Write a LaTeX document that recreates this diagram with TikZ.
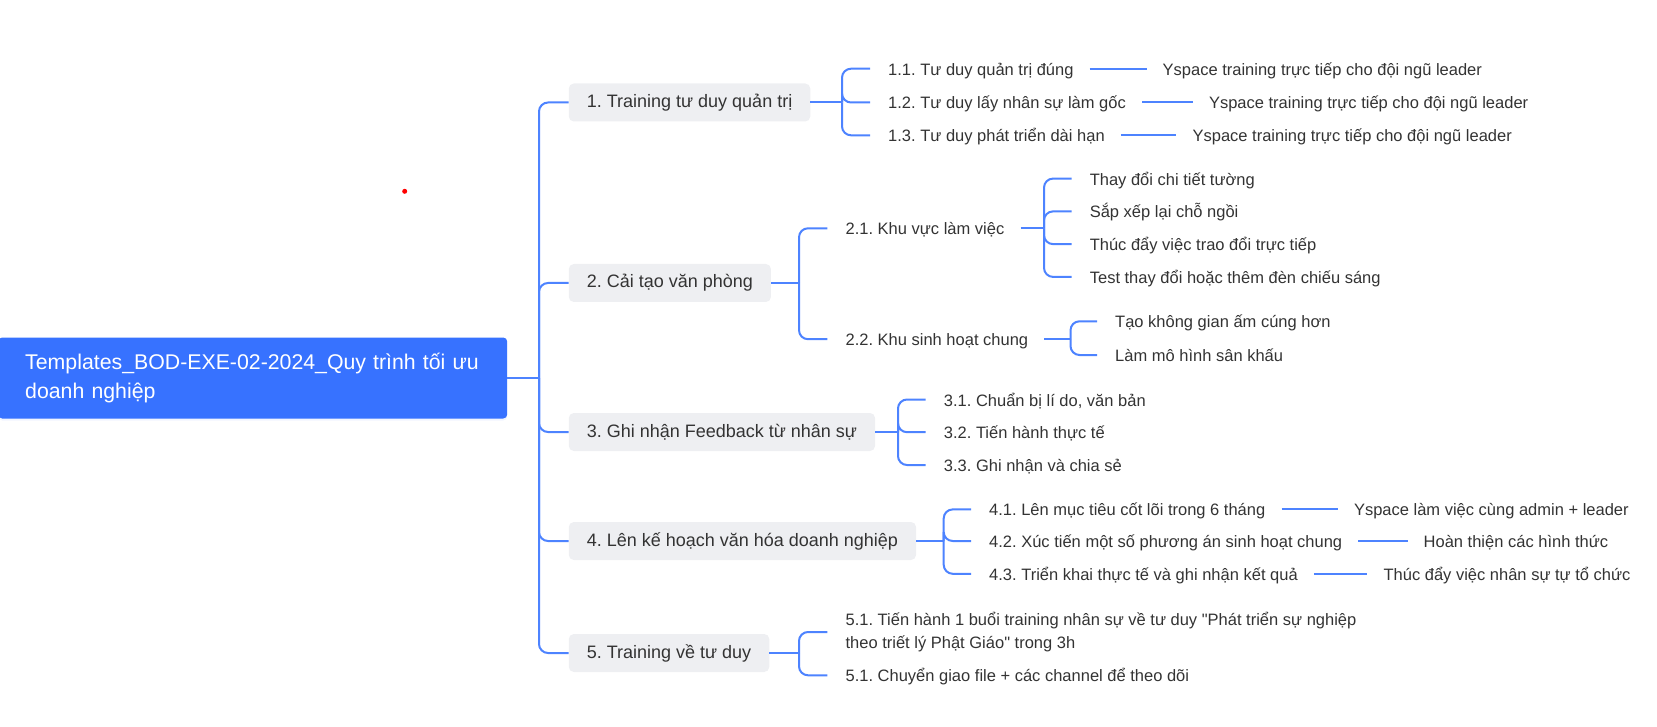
\documentclass[tikz,border=0pt]{standalone}
\usepackage{fontspec}
\setmainfont{Liberation Sans}[Ligatures=TeXOff]
\usetikzlibrary{shadows}
\frenchspacing

\definecolor{blu}{RGB}{55,114,255}
\definecolor{linea}{RGB}{77,131,255}
\definecolor{grigio}{RGB}{238,239,242}
\definecolor{testo}{RGB}{51,51,51}

\tikzset{
  radice/.style={fill=blu, text=white, rounded corners=4pt, align=left,
    font=\fontsize{21.3}{29}\selectfont, inner xsep=27pt, text width=455pt,
    minimum height=81pt, anchor=west,
    drop shadow={shadow xshift=0pt, shadow yshift=-2pt, fill=blu!40, opacity=0.18}},
  ramo/.style={fill=grigio, text=testo, rounded corners=5pt,
    font=\fontsize{18}{22}\selectfont, inner xsep=18pt, inner ysep=0pt,
    minimum height=38pt, text height=13pt, text depth=3pt, anchor=west},
  voce/.style={text=testo, font=\fontsize{16.5}{23.3}\selectfont, inner sep=0pt,
    text height=13pt, text depth=0pt, anchor=west},
  voce2/.style={text=testo, font=\fontsize{16.5}{23.3}\selectfont, inner sep=0pt,
    align=left, anchor=west},
  link/.style={draw=linea, line width=2pt, rounded corners=9pt},
  foglia/.style={link, shorten <=16pt, shorten >=16pt}
}

\begin{document}
\begin{tikzpicture}[x=1pt,y=-1pt]
    \useasboundingbox (0,0) rectangle (1657,727);

    % Radice
    \node[radice] (radice) at (-2,378) {Templates\_BOD-EXE-02-2024\_Quy trình tối ưu\\doanh nghiệp};
    \fill[red] (404.7,191.3) circle (2.5pt);

    % Rami principali
    \node[ramo] (r1) at (568.6,102.5) {1. Training tư duy quản trị};
    \node[ramo] (r2) at (568.6,283) {2. Cải tạo văn phòng};
    \node[ramo] (r3) at (568.6,432) {3. Ghi nhận Feedback từ nhân sự};
    \node[ramo] (r4) at (568.6,541) {4. Lên kế hoạch văn hóa doanh nghiệp};
    \node[ramo] (r5) at (568.6,653) {5. Training về tư duy};

    % Punti di diramazione
    \coordinate (tronco) at (539,378);
    \coordinate (k1) at (842,102.5);
    \coordinate (k2) at (799,283);
    \coordinate (k3) at (898,432);
    \coordinate (k4) at (943.7,541);
    \coordinate (k5) at (799,653);
    \coordinate (k21) at (1044,228.3);
    \coordinate (k22) at (1070.5,339.2);

    % Voci
    \node[voce] (v11) at (888,68.7) {1.1. Tư duy quản trị đúng};
    \node[voce] (v12) at (888,102.5) {1.2. Tư duy lấy nhân sự làm gốc};
    \node[voce] (v13) at (888,135.3) {1.3. Tư duy phát triển dài hạn};
    \node[voce] (v21) at (845.4,228.3) {2.1. Khu vực làm việc};
    \node[voce] (v22) at (845.4,339.2) {2.2. Khu sinh hoạt chung};
    \node[voce] (v211) at (1089.6,178.6) {Thay đổi chi tiết tường};
    \node[voce] (v212) at (1089.6,211.4) {Sắp xếp lại chỗ ngồi};
    \node[voce] (v213) at (1089.6,244.1) {Thúc đẩy việc trao đổi trực tiếp};
    \node[voce] (v214) at (1089.6,276.9) {Test thay đổi hoặc thêm đèn chiếu sáng};
    \node[voce] (v221) at (1115,321.3) {Tạo không gian ấm cúng hơn};
    \node[voce] (v222) at (1115,355) {Làm mô hình sân khấu};
    \node[voce] (v31) at (943.7,399.5) {3.1. Chuẩn bị lí do, văn bản};
    \node[voce] (v32) at (943.7,432.2) {3.2. Tiến hành thực tế};
    \node[voce] (v33) at (943.7,465) {3.3. Ghi nhận và chia sẻ};
    \node[voce] (v41) at (989,509.4) {4.1. Lên mục tiêu cốt lõi trong 6 tháng};
    \node[voce] (v42) at (989,541) {4.2. Xúc tiến một số phương án sinh hoạt chung};
    \node[voce] (v43) at (989,573.8) {4.3. Triển khai thực tế và ghi nhận kết quả};
    \node[voce2] (v51) at (845.4,632) {5.1. Tiến hành 1 buổi training nhân sự về tư duy "Phát triển sự nghiệp\\theo triết lý Phật Giáo" trong 3h};
    \node[voce] (v52) at (845.4,675.3) {5.1. Chuyển giao file + các channel để theo dõi};

    % Foglie
    \node[voce] (f11) at (1162.5,68.7) {Yspace training trực tiếp cho đội ngũ leader};
    \node[voce] (f12) at (1208.8,102.5) {Yspace training trực tiếp cho đội ngũ leader};
    \node[voce] (f13) at (1192.4,135.3) {Yspace training trực tiếp cho đội ngũ leader};
    \node[voce] (f41) at (1353.8,509.4) {Yspace làm việc cùng admin + leader};
    \node[voce] (f42) at (1423.5,541) {Hoàn thiện các hình thức};
    \node[voce] (f43) at (1383.4,573.8) {Thúc đẩy việc nhân sự tự tổ chức};

    % Tronco
    \draw[link] (radice.east) -- (tronco);
    \draw[link] (tronco) |- (r1.west);
    \draw[link] (tronco) |- (r2.west);
    \draw[link] (tronco) |- (r3.west);
    \draw[link] (tronco) |- (r4.west);
    \draw[link] (tronco) |- (r5.west);

    % Ramo 1
    \draw[link] (r1.east) -- (k1);
    \draw[link] (k1) |- ([xshift=-18pt]v11.west);
    \draw[link] (k1) |- ([xshift=-18pt]v12.west);
    \draw[link] (k1) |- ([xshift=-18pt]v13.west);
    \draw[foglia] (v11.east) -- (f11.west);
    \draw[foglia] (v12.east) -- (f12.west);
    \draw[foglia] (v13.east) -- (f13.west);

    % Ramo 2
    \draw[link] (r2.east) -- (k2);
    \draw[link] (k2) |- ([xshift=-18pt]v21.west);
    \draw[link] (k2) |- ([xshift=-18pt]v22.west);
    \draw[link] ([xshift=16pt]v21.east) -- (k21);
    \draw[link] (k21) |- ([xshift=-18pt]v211.west);
    \draw[link] (k21) |- ([xshift=-18pt]v212.west);
    \draw[link] (k21) |- ([xshift=-18pt]v213.west);
    \draw[link] (k21) |- ([xshift=-18pt]v214.west);
    \draw[link] ([xshift=16pt]v22.east) -- (k22);
    \draw[link] (k22) |- ([xshift=-18pt]v221.west);
    \draw[link] (k22) |- ([xshift=-18pt]v222.west);

    % Ramo 3
    \draw[link] (r3.east) -- (k3);
    \draw[link] (k3) |- ([xshift=-18pt]v31.west);
    \draw[link] (k3) |- ([xshift=-18pt]v32.west);
    \draw[link] (k3) |- ([xshift=-18pt]v33.west);

    % Ramo 4
    \draw[link] (r4.east) -- (k4);
    \draw[link] (k4) |- ([xshift=-18pt]v41.west);
    \draw[link] (k4) |- ([xshift=-18pt]v42.west);
    \draw[link] (k4) |- ([xshift=-18pt]v43.west);
    \draw[foglia] (v41.east) -- (f41.west);
    \draw[foglia] (v42.east) -- (f42.west);
    \draw[foglia] (v43.east) -- (f43.west);

    % Ramo 5
    \draw[link] (r5.east) -- (k5);
    \draw[link] (k5) |- ([xshift=-18pt]v51.west);
    \draw[link] (k5) |- ([xshift=-18pt]v52.west);
\end{tikzpicture}
\end{document}
